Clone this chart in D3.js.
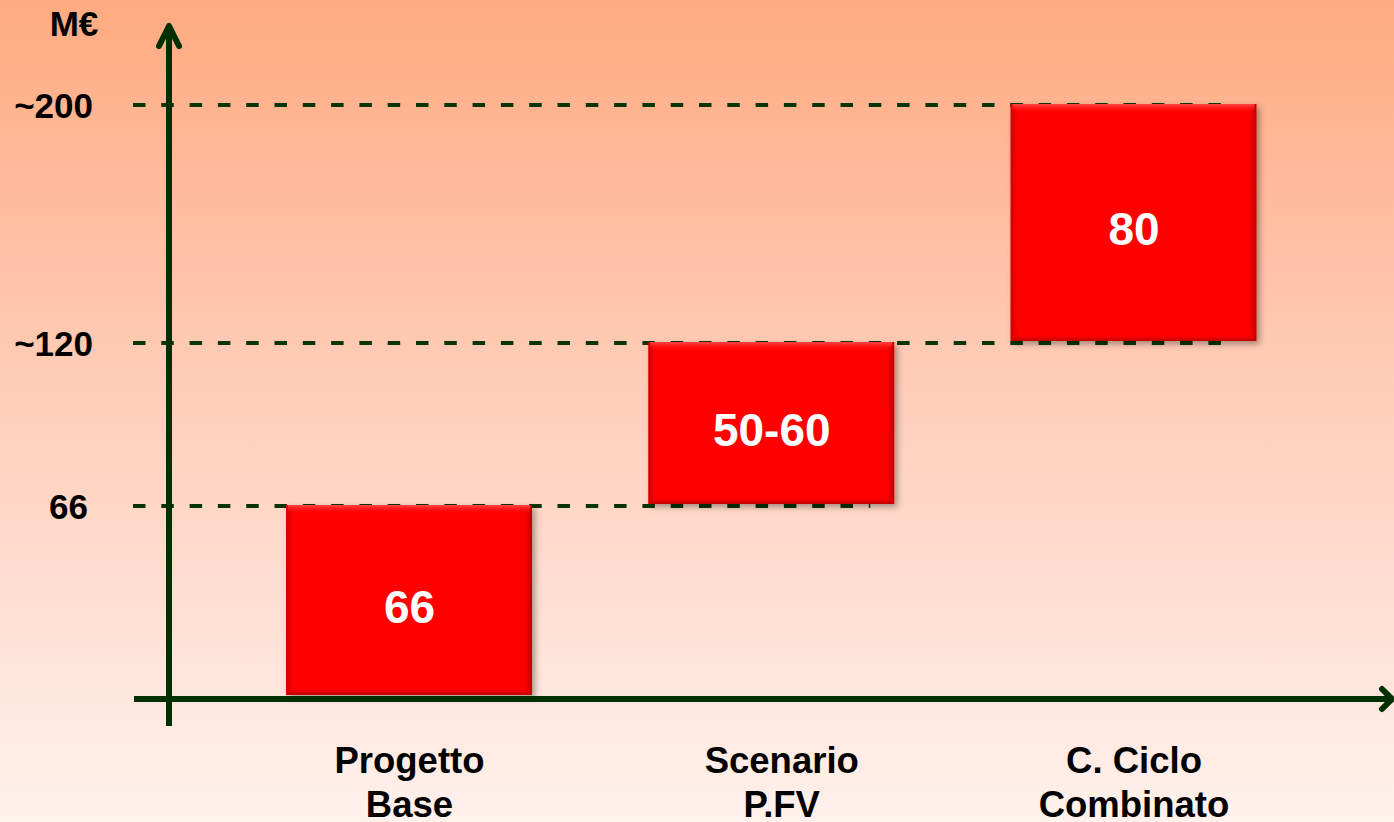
<!DOCTYPE html>
<html>
<head>
<meta charset="utf-8">
<script src="https://cdn.jsdelivr.net/npm/d3@7/dist/d3.min.js"></script>
<style>
  html, body { margin: 0; padding: 0; overflow: hidden; }
  svg { display: block; }
  text { font-family: "Liberation Sans", Arial, sans-serif; font-weight: bold; }
</style>
</head>
<body>
<script>
// ---- data ----
const categories = [["Progetto", "Base"], ["Scenario", "P.FV"], ["C. Ciclo", "Combinato"]];
const barStart = [0, 66, 120];
const barEnd = [66, 120, 200];
const barLabels = ["66", "50-60", "80"];
const tickValues = [66, 120, 200];
const tickLabels = ["66", "~120", "~200"];
const unitLabel = "M€";
// extent of each dashed reference line (index of last bar it reaches)
const refLineReach = [1, 2, 2];

const W = 1394, H = 822;
const svg = d3.select("body").append("svg").attr("width", W).attr("height", H);
const defs = svg.append("defs");

// background gradient
const bg = defs.append("linearGradient").attr("id", "bg").attr("x1", 0).attr("y1", 0).attr("x2", 0).attr("y2", 1);
bg.append("stop").attr("offset", "0%").attr("stop-color", "#FFAA80");
bg.append("stop").attr("offset", "50%").attr("stop-color", "#FFCFBC");
bg.append("stop").attr("offset", "100%").attr("stop-color", "#FFF1EC");
svg.append("rect").attr("width", W).attr("height", H).attr("fill", "url(#bg)");

// bar gradients
const hg = defs.append("linearGradient").attr("id", "barH").attr("x1", 0).attr("y1", 0).attr("x2", 1).attr("y2", 0);
hg.append("stop").attr("offset", "0%").attr("stop-color", "#D00000");
hg.append("stop").attr("offset", "3%").attr("stop-color", "#FF0606");
hg.append("stop").attr("offset", "97%").attr("stop-color", "#FF0606");
hg.append("stop").attr("offset", "100%").attr("stop-color", "#C00000");
const tg = defs.append("linearGradient").attr("id", "barTop").attr("x1", 0).attr("y1", 0).attr("x2", 0).attr("y2", 1);
tg.append("stop").attr("offset", "0%").attr("stop-color", "#FF5050").attr("stop-opacity", 0.9);
tg.append("stop").attr("offset", "100%").attr("stop-color", "#FF0606").attr("stop-opacity", 0);
const btg = defs.append("linearGradient").attr("id", "barBot").attr("x1", 0).attr("y1", 0).attr("x2", 0).attr("y2", 1);
btg.append("stop").attr("offset", "0%").attr("stop-color", "#FF0606").attr("stop-opacity", 0);
btg.append("stop").attr("offset", "100%").attr("stop-color", "#B00000").attr("stop-opacity", 0.9);

const sh = defs.append("filter").attr("id", "shadow").attr("x", "-10%").attr("y", "-10%").attr("width", "130%").attr("height", "130%");
sh.append("feDropShadow").attr("dx", 3).attr("dy", 3).attr("stdDeviation", 3)
  .attr("flood-color", "#000").attr("flood-opacity", 0.35);

// ---- scales ----
const y = d3.scaleLinear().domain([0, 66, 120, 200]).range([697, 506, 343, 105]);
const x = d3.scalePoint().domain(d3.range(categories.length)).range([409.5, 1134]);
const barW = 245;

const axisColor = "#003000";
const axisX = 169, axisY = 699;

// dashed reference lines
svg.append("g").selectAll("line").data(tickValues).join("line")
  .attr("x1", 133)
  .attr("x2", (d, i) => x(refLineReach[i]) + barW / 2 - 24)
  .attr("y1", d => y(d)).attr("y2", d => y(d))
  .attr("stroke", "#073507").attr("stroke-width", 3.8)
  .attr("stroke-dasharray", "12.5,15.8");

// bars
const bars = svg.append("g").selectAll("g").data(categories).join("g");
bars.append("rect")
  .attr("x", (d, i) => x(i) - barW / 2 - 1)
  .attr("y", (d, i) => y(barEnd[i]) - 1)
  .attr("width", barW + 1)
  .attr("height", (d, i) => y(barStart[i]) - y(barEnd[i]) - 1)
  .attr("fill", "url(#barH)")
  .attr("filter", "url(#shadow)");
bars.append("rect")
  .attr("x", (d, i) => x(i) - barW / 2 + 1)
  .attr("y", (d, i) => y(barEnd[i]) - 1)
  .attr("width", barW - 3)
  .attr("height", 9)
  .attr("fill", "url(#barTop)");
bars.append("rect")
  .attr("x", (d, i) => x(i) - barW / 2 + 1)
  .attr("y", (d, i) => y(barStart[i]) - 9)
  .attr("width", barW - 3)
  .attr("height", 7)
  .attr("fill", "url(#barBot)");
bars.append("text")
  .attr("x", (d, i) => x(i))
  .attr("y", (d, i) => (y(barStart[i]) + y(barEnd[i])) / 2 + 21)
  .attr("text-anchor", "middle")
  .attr("font-size", 46)
  .attr("fill", "#FFFFFF")
  .text((d, i) => barLabels[i]);

// axes
svg.append("line").attr("x1", 134).attr("x2", 1390).attr("y1", axisY).attr("y2", axisY)
  .attr("stroke", axisColor).attr("stroke-width", 6);
svg.append("line").attr("x1", axisX).attr("x2", axisX).attr("y1", 726).attr("y2", 27)
  .attr("stroke", axisColor).attr("stroke-width", 6);
// arrowheads
svg.append("path").attr("d", `M${axisX - 10},${46} L${axisX},${26} L${axisX + 10},${46}`)
  .attr("fill", "none").attr("stroke", axisColor).attr("stroke-width", 6)
  .attr("stroke-linecap", "round").attr("stroke-linejoin", "round");
svg.append("path").attr("d", `M${1382},${axisY - 10} L${1392},${axisY} L${1382},${axisY + 10}`)
  .attr("fill", "none").attr("stroke", axisColor).attr("stroke-width", 6)
  .attr("stroke-linecap", "round").attr("stroke-linejoin", "round");

// tick labels
svg.append("g").selectAll("text").data(tickValues).join("text")
  .attr("x", (d, i) => i === 0 ? 88 : 93)
  .attr("y", d => y(d) + 13)
  .attr("text-anchor", "end")
  .attr("font-size", 35)
  .attr("fill", "#000")
  .text((d, i) => tickLabels[i]);

svg.append("text").attr("x", 74).attr("y", 36).attr("text-anchor", "middle")
  .attr("font-size", 35).attr("fill", "#000").text(unitLabel);

// category labels
const cl = svg.append("g").selectAll("text").data(categories).join("text")
  .attr("x", (d, i) => x(i) + (i === 1 ? 10 : 0))
  .attr("y", 773)
  .attr("text-anchor", "middle")
  .attr("font-size", 36.5)
  .attr("fill", "#000");
cl.selectAll("tspan").data(d => d).join("tspan")
  .attr("x", function () { return d3.select(this.parentNode).attr("x"); })
  .attr("dy", (d, j) => j === 0 ? 0 : 44)
  .text(d => d);
</script>
</body>
</html>
